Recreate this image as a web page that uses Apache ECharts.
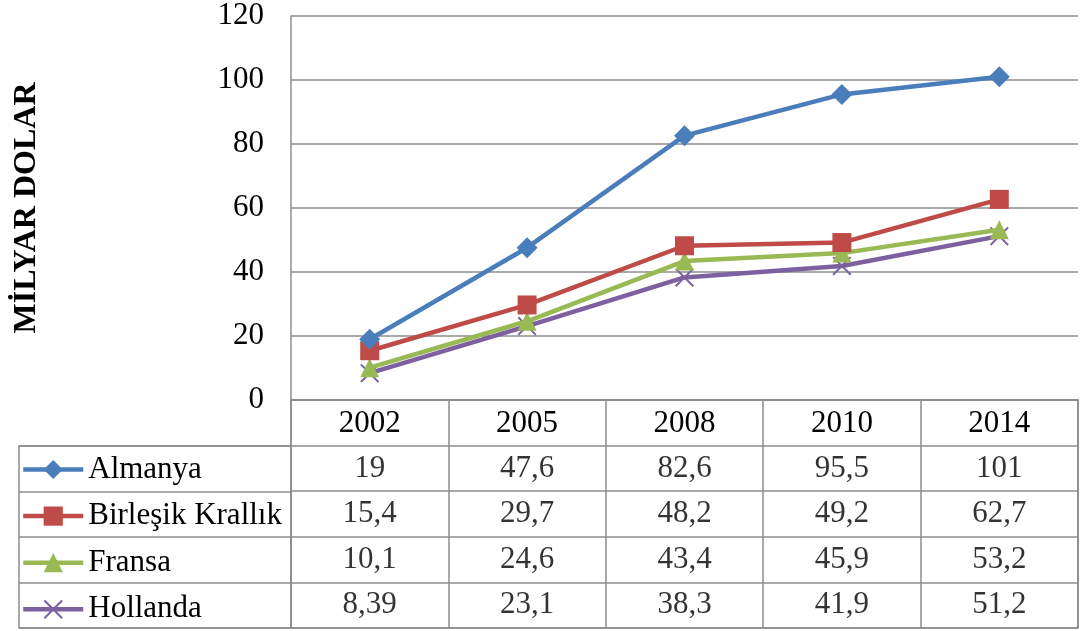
<!DOCTYPE html>
<html>
<head>
<meta charset="utf-8">
<script src="https://cdn.jsdelivr.net/npm/echarts@6/dist/echarts.min.js"></script>
<style>
  html, body { margin: 0; padding: 0; background: #fff; }
  #chart { width: 1082px; height: 631px; }
</style>
</head>
<body>
<div id="chart"></div>
<script>
// data
const years = ['2002', '2005', '2008', '2010', '2014'];
const names = ['Almanya', 'Birleşik Krallık', 'Fransa', 'Hollanda'];
const almanya = [19, 47.6, 82.6, 95.5, 101];
const birlesik = [15.4, 29.7, 48.2, 49.2, 62.7];
const fransa = [10.1, 24.6, 43.4, 45.9, 53.2];
const hollanda = [8.39, 23.1, 38.3, 41.9, 51.2];
const colors = ['#4a7ebb', '#be4b48', '#98b954', '#7d60a0'];

const font = "'Liberation Serif', 'Times New Roman', serif";
const lineGray = '#8c8c8c';
const crossPath = 'path://M0,1.5L1.5,0L10,8.5L18.5,0L20,1.5L11.5,10L20,18.5L18.5,20L10,11.5L1.5,20L0,18.5L8.5,10Z';
const symbols = ['diamond', 'rect', 'triangle', crossPath];
const allValues = [almanya, birlesik, fransa, hollanda];

const fmt = v => String(v).replace('.', ',');

const chart = echarts.init(document.getElementById('chart'));

const lineSeries = names.map((n, i) => ({
    name: n,
    type: 'line',
    xAxisIndex: 0,
    yAxisIndex: 0,
    data: allValues[i],
    symbol: symbols[i],
    symbolSize: i === 0 ? 21 : 19,
    lineStyle: { width: 4.5, color: colors[i] },
    itemStyle: { color: colors[i] },
    z: 10 - i
}));

// table cells: [column, row, value]
const cells = [];
allValues.forEach((vals, r) => {
    vals.forEach((v, c) => cells.push([c, r + 1, v]));
});

const option = {
    animation: false,
    backgroundColor: '#fff',
    textStyle: { fontFamily: font },
    grid: [
        { left: 291, top: 16, width: 787, height: 384 },
        { left: 291, top: 400, width: 787, height: 228, show: true, borderColor: lineGray, borderWidth: 1.5 },
        { left: 19, top: 446, width: 272, height: 182, show: true, borderColor: lineGray, borderWidth: 1.5 }
    ],
    xAxis: [
        {
            gridIndex: 0, type: 'category', data: years, boundaryGap: true,
            axisLine: { show: true, lineStyle: { color: lineGray, width: 1.5 } },
            axisTick: { show: false },
            axisLabel: { color: '#000', fontSize: 31, fontFamily: font, margin: 24, verticalAlign: 'middle' }
        },
        {
            gridIndex: 1, type: 'category', data: years, boundaryGap: true,
            axisLine: { show: false }, axisTick: { show: false }, axisLabel: { show: false },
            splitLine: { show: true, lineStyle: { color: lineGray, width: 1.5 } }
        },
        {
            gridIndex: 2, type: 'value', show: false
        }
    ],
    yAxis: [
        {
            gridIndex: 0, type: 'value', min: 0, max: 120, interval: 20,
            name: 'MİLYAR DOLAR', nameLocation: 'middle', nameRotate: 90, nameGap: 248,
            nameTextStyle: { color: '#000', fontSize: 32, fontWeight: 'bold', fontFamily: font },
            axisLine: { show: true, lineStyle: { color: lineGray, width: 1.5 } },
            axisTick: { show: false },
            axisLabel: { color: '#000', fontSize: 31, fontFamily: font, margin: 27 },
            splitLine: { show: true, lineStyle: { color: lineGray, width: 1.5 } }
        },
        {
            gridIndex: 1, type: 'category', data: [''].concat(names), inverse: true, boundaryGap: true,
            axisLine: { show: false }, axisTick: { show: false }, axisLabel: { show: false },
            splitLine: { show: true, lineStyle: { color: lineGray, width: 1.5 } }
        },
        {
            gridIndex: 2, type: 'category', data: names, inverse: true, boundaryGap: true,
            axisLine: { show: false }, axisTick: { show: false }, axisLabel: { show: false },
            splitLine: { show: true, lineStyle: { color: lineGray, width: 1.5 } }
        }
    ],
    legend: {
        data: names,
        orient: 'vertical',
        left: 21,
        top: 454,
        padding: 0,
        itemWidth: 60,
        itemHeight: 24,
        itemGap: 15.6,
        lineStyle: { width: 4.5 },
        textStyle: { color: '#000', fontSize: 31, fontFamily: font, lineHeight: 30 }
    },
    series: lineSeries.concat([{
        name: 'tablo',
        type: 'scatter',
        xAxisIndex: 1,
        yAxisIndex: 1,
        data: cells,
        symbolSize: 1,
        itemStyle: { color: 'rgba(0,0,0,0)' },
        silent: true,
        label: {
            show: true,
            position: 'inside',
            color: '#000',
            fontSize: 31,
            fontFamily: font,
            formatter: p => fmt(p.value[2])
        }
    }])
};

chart.setOption(option);
</script>
</body>
</html>
